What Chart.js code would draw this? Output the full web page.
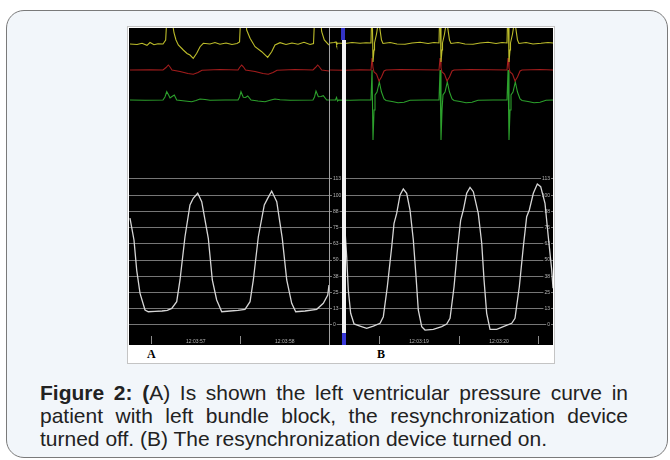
<!DOCTYPE html>
<html>
<head>
<meta charset="utf-8">
<script src="https://cdn.jsdelivr.net/npm/chart.js@4.4.1/dist/chart.umd.min.js"></script>
<style>
  html, body { margin: 0; padding: 0; }
  body { width: 670px; height: 460px; position: relative; overflow: hidden; background: #fff;
         font-family: "Liberation Sans", Arial, sans-serif; }
  .card { position: absolute; left: 6px; top: 10px; width: 662px; height: 448px; box-sizing: border-box;
          border: 1.5px solid #7a7a7a; border-radius: 18px; background: #f2f6fa; }
  .frame { position: absolute; left: 127px; top: 26px; width: 428px; height: 338px; box-sizing: border-box;
           background: #fff; border: 1px solid #c4c4c4; }
  .panel { position: absolute; top: 28px; height: 317px; background: #000; }
  #panelA { left: 129px; width: 200px; border-right: 1px solid #a0a0a0; }
  #panelB { left: 330px; width: 223px; }
  .panel canvas { display: block; }
  .tag { position: absolute; top: 348px; font: bold 12px/12px "Liberation Serif", "Times New Roman", serif; color: #000; }
  .caption { position: absolute; left: 40px; top: 381px; width: 588px; font-size: 21px; line-height: 23px; color: #222; }
  .caption .j { text-align: justify; text-align-last: justify; white-space: nowrap; }
</style>
</head>
<body>
<div class="card"></div>
<div class="frame"></div>
<div class="panel" id="panelA"><canvas id="chartA" width="200" height="317"></canvas></div>
<div class="panel" id="panelB"><canvas id="chartB" width="223" height="317"></canvas></div>
<div class="tag" style="left:147px">A</div>
<div class="tag" style="left:377px">B</div>
<div class="caption">
  <div class="j"><b>Figure 2: (</b>A) Is shown the left ventricular pressure curve in</div>
  <div class="j">patient with left bundle block, the resynchronization device</div>
  <div>turned off. (B) The resynchronization device turned on.</div>
</div>

<script>
/* =================================================================
   Krzywa ciśnienia LV + 3 odprowadzenia EKG, panel A (CRT off) i B (CRT on)
   czas = sekundy w minucie 12:03, ciśnienie w mmHg, EKG w mV (umowne)
   ================================================================= */

const pressureTicks = [0, 12.5, 25, 37.5, 50, 62.5, 75, 87.5, 100, 112.5];
const timeTicksA = [57, 57.5, 58, 58.5];
const timeTicksB = [19, 19.5, 20, 20.5, 21];
const timeRangeA = [56.75, 58.997];
const timeRangeB = [18.3875, 21.175];
const cursorTimeB = 18.554;

// --- panel A: stymulacja wyłączona ---
const pressureA = [
    [56.761,82.4],[56.806,65.5],[56.837,42.0],[56.874,24.4],[56.930,11.6],[56.967,10.2],[57.042,10.5],
    [57.121,10.8],[57.180,11.3],[57.230,12.8],[57.286,18.0],[57.323,34.7],[57.379,68.0],[57.435,92.5],
    [57.472,97.6],[57.522,101.5],[57.567,95.0],[57.641,66.8],[57.686,34.7],[57.735,19.3],[57.792,10.2],
    [57.885,10.8],[57.975,11.2],[58.053,12.1],[58.110,18.0],[58.147,34.7],[58.203,68.0],[58.270,92.5],
    [58.308,97.6],[58.353,103.2],[58.410,95.0],[58.472,66.8],[58.522,34.7],[58.578,16.7],[58.623,10.2],
    [58.728,10.8],[58.859,12.1],[58.933,16.7],[58.983,23.1],[58.997,30.8]
];
const ecgYellowA = [
    [56.761,0],[56.840,-0.05],[56.896,0.07],[56.952,-0.13],[56.986,0.15],[57.031,-0.07],[57.076,0.03],
    [57.132,0],[57.162,0.4],[57.174,2.4],[57.183,4.4],[57.199,3.4],[57.216,4.4],[57.233,2.4],[57.256,1.1],
    [57.278,0.4],[57.304,-0.1],[57.360,-0.6],[57.402,-0.95],[57.435,-1.1],[57.472,-1.43],[57.511,-0.93],
    [57.548,-0.27],[57.585,0.07],[57.660,0],[57.716,0.15],[57.772,-0.03],[57.840,0.1],[57.907,-0.05],
    [57.963,0.05],[57.992,0.2],[58.003,2.4],[58.012,4.4],[58.031,3.2],[58.048,4.4],[58.072,1.4],
    [58.110,0.57],[58.166,-0.27],[58.241,-0.77],[58.308,-1.33],[58.353,-0.77],[58.390,-0.1],[58.447,0.13],
    [58.514,-0.05],[58.581,0.1],[58.649,-0.03],[58.716,0.17],[58.784,-0.05],[58.823,0.05],[58.834,2.4],
    [58.843,4.4],[58.862,3.2],[58.879,4.4],[58.915,1.23],[58.944,0.4],[58.997,-0.1]
];
const ecgRedA = [
    [56.761,0],[56.986,0.03],[57.132,0],[57.166,0.25],[57.192,0.5],[57.211,0.3],[57.233,0],[57.323,-0.15],
    [57.413,-0.35],[57.472,-0.43],[57.525,-0.25],[57.570,-0.03],[57.772,0.05],[57.975,0],[57.992,0.25],
    [58.016,0.5],[58.037,0.3],[58.059,0],[58.166,-0.15],[58.256,-0.35],[58.315,-0.43],[58.368,-0.25],
    [58.413,-0.03],[58.615,0.05],[58.817,0],[58.845,0.25],[58.870,0.5],[58.890,0.3],[58.915,0],[58.997,-0.1]
];
const ecgGreenA = [
    [56.761,0],[56.930,-0.03],[57.132,0],[57.154,0.3],[57.174,0.83],[57.195,0.5],[57.211,0.2],[57.233,0.35],
    [57.259,0.5],[57.286,0],[57.379,-0.1],[57.454,-0.17],[57.503,-0.05],[57.548,0.1],[57.604,0.05],
    [57.660,-0.03],[57.829,0],[57.975,0],[57.992,0.3],[58.008,0.83],[58.034,0.27],[58.059,0.25],[58.084,0.4],
    [58.121,0],[58.199,-0.1],[58.278,-0.17],[58.334,-0.03],[58.390,0.1],[58.447,0.03],[58.559,-0.03],
    [58.817,0],[58.834,0.3],[58.851,0.9],[58.877,0.33],[58.907,0.35],[58.933,0.43],[58.971,0],[58.997,0]
];

// --- panel B: resynchronizacja włączona ---
const pressureB = [
    [18.575,73.2],[18.596,52.6],[18.616,27.0],[18.646,9.0],[18.688,0.8],[18.763,-0.8],[18.846,-2.6],
    [18.929,-0.8],[19.013,1.3],[19.054,6.4],[19.104,29.5],[19.159,60.3],[19.188,78.4],[19.221,86.0],
    [19.263,100.2],[19.304,104.8],[19.346,101.5],[19.388,88.6],[19.429,65.5],[19.463,37.2],[19.491,11.6],
    [19.534,-1.3],[19.575,-3.9],[19.679,-3.3],[19.784,-1.3],[19.846,0.8],[19.888,5.2],[19.938,29.5],
    [19.984,60.3],[20.021,80.9],[20.054,88.6],[20.096,101.5],[20.138,106.0],[20.179,102.7],[20.241,86.0],
    [20.284,63.0],[20.313,34.7],[20.346,9.0],[20.388,-3.3],[20.471,-3.3],[20.554,-1.3],[20.659,1.3],
    [20.700,5.2],[20.754,29.5],[20.804,60.3],[20.846,83.4],[20.879,88.6],[20.929,101.5],[20.979,108.6],
    [21.021,106.6],[21.075,93.8],[21.116,68.0],[21.159,42.4],[21.175,28.3]
];
const ecgYellowB = [
    [18.388,0],[18.438,0.05],[18.463,0.1],[18.471,-0.2],[18.481,0],[18.575,-0.05],[18.663,0.05],[18.763,-0.03],
    [18.838,0.03],[18.900,0],[18.913,4.3],[18.925,-1.9],[18.938,-0.7],[18.944,0],[18.969,0.9],[18.988,1.9],
    [19.006,1.7],[19.031,0.3],[19.050,-0.05],[19.138,0.05],[19.225,-0.1],[19.325,-0.13],[19.413,0],
    [19.513,0.07],[19.613,-0.05],[19.688,0.05],[19.750,0],[19.763,4.3],[19.775,-1.9],[19.788,-0.7],
    [19.794,0],[19.819,0.9],[19.838,1.9],[19.856,1.7],[19.881,0.3],[19.900,-0.05],[19.988,0.05],
    [20.075,-0.1],[20.175,-0.13],[20.263,0],[20.363,0.07],[20.463,-0.05],[20.538,0.05],[20.600,0],
    [20.613,4.3],[20.625,-1.9],[20.638,-0.7],[20.644,0],[20.669,0.9],[20.688,1.9],[20.706,1.7],[20.731,0.3],
    [20.750,-0.05],[20.838,0.05],[20.925,-0.1],[21.025,-0.03],[21.113,0.05],[21.175,0]
];
const ecgRedB = [
    [18.388,0],[18.575,-0.03],[18.763,0.03],[18.900,0],[18.913,1.2],[18.925,0.2],[18.938,-0.2],[18.969,-0.4],
    [19.000,-1.1],[19.031,-0.7],[19.063,-0.1],[19.088,0],[19.263,0.05],[19.513,0.03],[19.750,0],[19.763,1.2],
    [19.775,0.2],[19.788,-0.2],[19.819,-0.4],[19.850,-1.1],[19.881,-0.7],[19.913,-0.1],[19.938,0],
    [20.138,0.05],[20.388,0.03],[20.600,0],[20.613,1.2],[20.625,0.2],[20.638,-0.2],[20.669,-0.4],
    [20.700,-1.1],[20.731,-0.7],[20.763,-0.1],[20.788,0],[21.013,0.05],[21.175,0]
];
const ecgGreenB = [
    [18.388,0],[18.456,0],[18.469,0.25],[18.481,-0.1],[18.494,0],[18.638,-0.03],[18.763,0],[18.900,0],
    [18.913,3.0],[18.925,-4.0],[18.938,-1.0],[18.950,0.5],[18.975,0.8],[19.004,1.8],[19.031,0.8],[19.063,0.1],
    [19.088,-0.05],[19.163,-0.15],[19.238,-0.27],[19.313,-0.23],[19.388,-0.03],[19.575,0],[19.750,0],
    [19.763,3.0],[19.775,-4.0],[19.788,-1.0],[19.800,0.5],[19.825,0.8],[19.854,1.8],[19.881,0.8],[19.913,0.1],
    [19.938,-0.05],[20.013,-0.15],[20.088,-0.27],[20.163,-0.23],[20.238,-0.03],[20.425,0],[20.600,0],
    [20.613,3.0],[20.625,-4.0],[20.638,-1.0],[20.650,0.5],[20.675,0.8],[20.704,1.8],[20.731,0.8],[20.763,0.1],
    [20.788,-0.05],[20.863,-0.15],[20.938,-0.27],[21.013,-0.23],[21.088,-0.03],[21.175,0]
];

const TICK_FONT = { family: '"Liberation Sans", Arial, sans-serif', size: 5 };
const LABEL_GRAY = '#b4b4b4';

// pionowy kursor (biały pasek z niebieskimi końcami) w panelu B
const cursorPlugin = {
    id: 'cursor',
    afterDatasetsDraw(chart, args, opts) {
        if (opts.time == null) return;
        const { ctx, chartArea, scales } = chart;
        const x = Math.round(scales.x.getPixelForValue(opts.time));
        const yLow = scales.yP.getPixelForValue(-6.2);
        ctx.save();
        ctx.fillStyle = '#3333c4';
        ctx.fillRect(x - 2, chartArea.top, 4, 12);
        ctx.fillStyle = '#f2f2f2';
        ctx.fillRect(x - 1, chartArea.top + 12, 4, yLow - chartArea.top - 12);
        ctx.fillStyle = '#3838d8';
        ctx.fillRect(x - 1, yLow, 4, chart.height - yLow);
        ctx.restore();
    }
};

const toXY = arr => arr.map(([t, v]) => ({ x: t, y: v }));

// skale nie rezerwują miejsca - obszar wykresu = cały czarny panel
function noFit(s) {
    s.paddingTop = 0; s.paddingBottom = 0; s.paddingLeft = 0; s.paddingRight = 0;
}

function traceDataset(data, color, axis, width) {
    return {
        data: toXY(data),
        borderColor: color,
        borderWidth: width,
        pointRadius: 0,
        tension: 0,
        yAxisID: axis
    };
}

function pressureScale(position, showLabels, drawGrid) {
    return {
        type: 'linear',
        position: position,
        min: -8.476,
        max: 228.85,
        afterBuildTicks: s => { s.ticks = pressureTicks.map(v => ({ value: v })); },
        afterFit: s => { noFit(s); s.width = 0; },
        border: { display: false },
        grid: { display: drawGrid, color: '#767676', lineWidth: 1, drawTicks: false },
        ticks: {
            display: showLabels,
            mirror: true,
            padding: position === 'right' ? -3 : 3,
            color: LABEL_GRAY,
            font: TICK_FONT,
            showLabelBackdrop: true,
            backdropColor: '#000',
            backdropPadding: 1,
            callback: v => String(Math.round(v))
        }
    };
}

function ecgScale(baseMax) {
    return { type: 'linear', display: false, min: baseMax - 30.8, max: baseMax };
}

function drawPanel(canvasId, cfg) {
    const ctx = document.getElementById(canvasId).getContext('2d');
    const scales = {
        x: {
            type: 'linear',
            position: 'bottom',
            min: cfg.range[0],
            max: cfg.range[1],
            afterBuildTicks: s => { s.ticks = cfg.timeTicks.map(v => ({ value: v })); },
            afterFit: s => { noFit(s); s.height = 9; },
            border: { display: false },
            grid: {
                drawOnChartArea: false,
                tickLength: 8,
                color: c => (c.tick && c.tick.value % 1 === 0) ? '#8c8c8c' : 'rgba(0,0,0,0)'
            },
            ticks: {
                autoSkip: false,
                maxRotation: 0,
                padding: -5,
                color: LABEL_GRAY,
                font: TICK_FONT,
                callback: v => (v % 1 === 0.5) ? '12:03:' + Math.floor(v) : ''
            }
        },
        yP: pressureScale('left', cfg.labels, true),
        yY: ecgScale(cfg.yellowMax),
        yR: ecgScale(4.2),
        yG: ecgScale(7.2)
    };
    if (cfg.labels) scales.yP2 = pressureScale('right', true, false);

    return new Chart(ctx, {
        type: 'line',
        data: {
            datasets: [
                traceDataset(cfg.yellow, '#bcbc2a', 'yY', 1.1),
                traceDataset(cfg.red, '#a21c1c', 'yR', 1.1),
                traceDataset(cfg.green, '#2ca02c', 'yG', 1.1),
                traceDataset(cfg.pressure, '#d6d6d6', 'yP', 1.3)
            ]
        },
        options: {
            responsive: false,
            animation: false,
            devicePixelRatio: 1,
            layout: { padding: 0 },
            plugins: {
                legend: { display: false },
                tooltip: { enabled: false },
                cursor: { time: cfg.cursor }
            },
            scales: scales
        },
        plugins: [cursorPlugin]
    });
}

drawPanel('chartA', {
    range: timeRangeA, timeTicks: timeTicksA, labels: false, yellowMax: 1.6, cursor: null,
    pressure: pressureA, yellow: ecgYellowA, red: ecgRedA, green: ecgGreenA
});
drawPanel('chartB', {
    range: timeRangeB, timeTicks: timeTicksB, labels: true, yellowMax: 1.5, cursor: cursorTimeB,
    pressure: pressureB, yellow: ecgYellowB, red: ecgRedB, green: ecgGreenB
});
</script>
</body>
</html>
